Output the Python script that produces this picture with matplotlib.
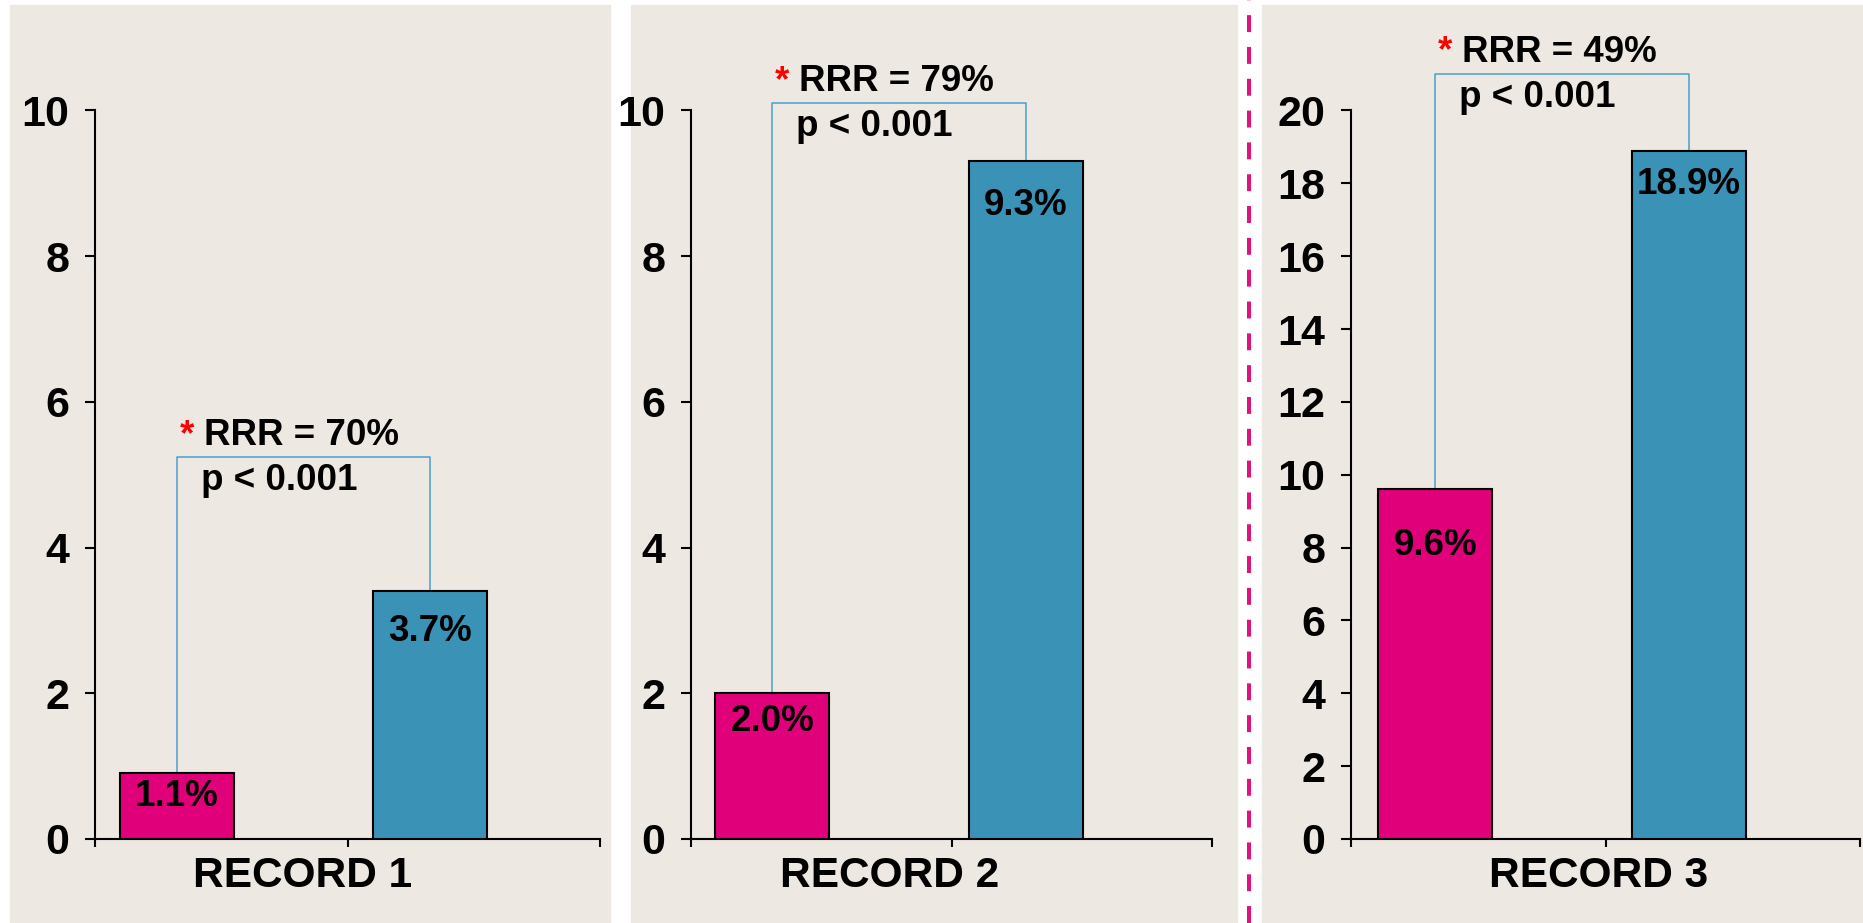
import matplotlib
matplotlib.use('Agg')
import matplotlib.pyplot as plt
import matplotlib.patches as patches
from matplotlib.lines import Line2D

records = ['RECORD 1', 'RECORD 2', 'RECORD 3']
pink_vals = [0.9, 2.0, 9.6]
blue_vals = [3.4, 9.3, 18.9]
pink_labels = ['1.1%', '2.0%', '9.6%']
blue_labels = ['3.7%', '9.3%', '18.9%']
rrr_text = ['RRR = 70%', 'RRR = 79%', 'RRR = 49%']
p_text = ['p < 0.001', 'p < 0.001', 'p < 0.001']
y_max = [10, 10, 20]
bracket_y = [5.24, 10.1, 21.0]

# layout (pixels of a 1863x923 canvas)
W, H = 1863, 923
panel_px = [(9.5, 610), (631, 1237), (1262, 1863)]
axes_px = [(95, 600), (691, 1212), (1351, 1860)]
x_limits = [(-0.323, 1.673), (-0.320, 1.733), (-0.333, 1.675)]
ax_bottom, ax_top = 839, 110.5
label_frac = [0.412, 0.382, 0.486]
pink_drop = [23, 28, 56]
blue_drop = [40, 44, 34]

bg = '#EDE8E2'
pink = '#E0007A'
blue = '#3A92B7'
bracket_col = '#4A9FC8'

plt.rcParams['font.family'] = ['Liberation Sans', 'DejaVu Sans']
plt.rcParams['font.weight'] = 'bold'

fig = plt.figure(figsize=(W / 100, H / 100), dpi=100, facecolor='white')

for x0, x1 in panel_px:
    fig.add_artist(patches.Rectangle((x0 / W, 1 - 922 / H), (x1 - x0) / W, 917 / H,
                                     transform=fig.transFigure, color=bg, zorder=0))

fig.add_artist(Line2D([1249 / W, 1249 / W], [0, 1], transform=fig.transFigure,
                      color='#E2127A', lw=2.9, linestyle=(0, (4.2, 3.7))))

for i in range(3):
    l, r = axes_px[i]
    ax = fig.add_axes([l / W, (H - ax_bottom) / H, (r - l) / W, (ax_bottom - ax_top) / H])
    ax.set_facecolor('none')
    ax.bar([0, 1], [pink_vals[i], blue_vals[i]], width=0.45, color=[pink, blue],
           edgecolor='black', linewidth=1.5, zorder=3)
    x0, x1 = x_limits[i]
    ax.set_xlim(x0, x1)
    ax.set_ylim(0, y_max[i])
    ax.set_yticks(range(0, y_max[i] + 1, 2))
    ax.set_xticks([x0, (x0 + x1) / 2, x1])
    ax.set_xticklabels([])
    for s in ['top', 'right']:
        ax.spines[s].set_visible(False)
    for s in ['left', 'bottom']:
        ax.spines[s].set_linewidth(1.5)
    ax.tick_params(axis='y', length=7.5, width=1.5, pad=11, labelsize=31)
    ax.tick_params(axis='x', length=6, width=1.5)
    for t in ax.get_yticklabels():
        t.set_fontweight('bold')

    # value labels
    ax.annotate(pink_labels[i], xy=(0, pink_vals[i]), xytext=(0, -pink_drop[i]),
                textcoords='offset pixels', ha='center', va='center',
                fontsize=26.5, fontweight='bold', zorder=4)
    ax.annotate(blue_labels[i], xy=(1, blue_vals[i]), xytext=(0, -blue_drop[i]),
                textcoords='offset pixels', ha='center', va='center',
                fontsize=26.5, fontweight='bold', zorder=4)

    # bracket
    by = bracket_y[i]
    ax.plot([0, 0, 1, 1], [pink_vals[i], by, by, blue_vals[i]], color=bracket_col,
            lw=1.1, clip_on=False, zorder=2)
    ax.annotate('*', xy=(0, by), xytext=(10, 22), textcoords='offset pixels',
                ha='center', va='center', color='red', fontsize=26.5, fontweight='bold',
                annotation_clip=False)
    ax.annotate(rrr_text[i], xy=(0, by), xytext=(27, 22), textcoords='offset pixels',
                ha='left', va='center', fontsize=26.5, fontweight='bold',
                annotation_clip=False)
    ax.annotate(p_text[i], xy=(0, by), xytext=(24, -23), textcoords='offset pixels',
                ha='left', va='center', fontsize=26.5, fontweight='bold',
                annotation_clip=False)

    ax.annotate(records[i], xy=(label_frac[i], 0), xycoords='axes fraction',
                xytext=(0, -37), textcoords='offset pixels', ha='center', va='center',
                fontsize=30.5, fontweight='bold', annotation_clip=False)

fig.savefig('out.png', dpi=100, facecolor='white')
